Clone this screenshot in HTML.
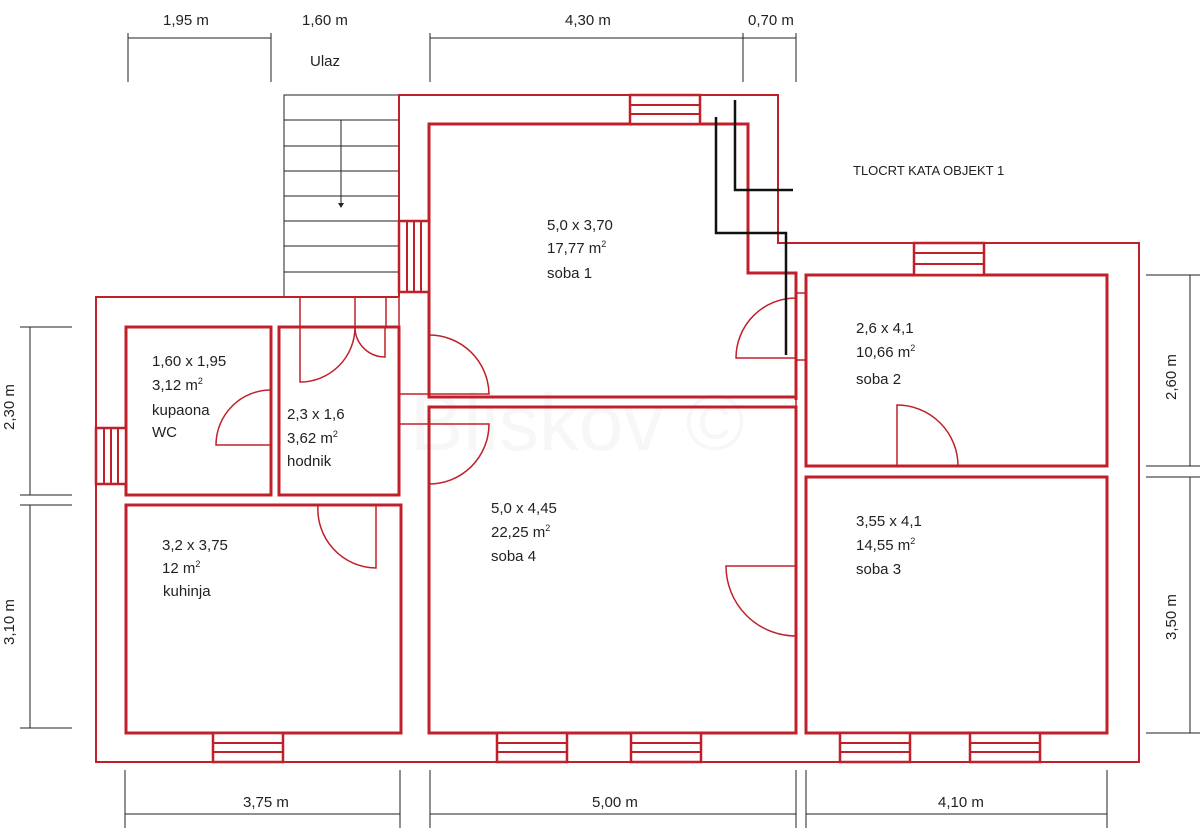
<!DOCTYPE html>
<html><head><meta charset="utf-8"><style>
html,body{margin:0;padding:0;background:#fff;width:1200px;height:833px;overflow:hidden}
svg{display:block}
text{font-family:"Liberation Sans",sans-serif;font-size:15px;fill:#222}
</style></head><body>
<svg width="1200" height="833" viewBox="0 0 1200 833" xmlns="http://www.w3.org/2000/svg">
<rect width="1200" height="833" fill="#fff"/>
<text x="410" y="450" style="font-size:80px;fill:#f7f7f7">Bliskov ©</text>

<g stroke="#222" stroke-width="1" fill="none">
<line x1="128" y1="33" x2="128" y2="82"/><line x1="271" y1="33" x2="271" y2="82"/><line x1="128" y1="38" x2="271" y2="38"/>
<line x1="430" y1="33" x2="430" y2="82"/><line x1="743" y1="33" x2="743" y2="82"/><line x1="796" y1="33" x2="796" y2="82"/><line x1="430" y1="38" x2="796" y2="38"/>
<line x1="125" y1="770" x2="125" y2="828"/><line x1="400" y1="770" x2="400" y2="828"/><line x1="125" y1="814" x2="400" y2="814"/>
<line x1="430" y1="770" x2="430" y2="828"/><line x1="796" y1="770" x2="796" y2="828"/><line x1="430" y1="814" x2="796" y2="814"/>
<line x1="806" y1="770" x2="806" y2="828"/><line x1="1107" y1="770" x2="1107" y2="828"/><line x1="806" y1="814" x2="1107" y2="814"/>
<line x1="20" y1="327" x2="72" y2="327"/><line x1="20" y1="495" x2="72" y2="495"/><line x1="30" y1="327" x2="30" y2="495"/>
<line x1="20" y1="505" x2="72" y2="505"/><line x1="20" y1="728" x2="72" y2="728"/><line x1="30" y1="505" x2="30" y2="728"/>
<line x1="1146" y1="275" x2="1200" y2="275"/><line x1="1146" y1="466" x2="1200" y2="466"/><line x1="1190" y1="275" x2="1190" y2="466"/>
<line x1="1146" y1="477" x2="1200" y2="477"/><line x1="1146" y1="733" x2="1200" y2="733"/><line x1="1190" y1="477" x2="1190" y2="733"/>
</g>
<g style="font-size:13px">
<text x="163" y="25">1,95 m</text><text x="302" y="25">1,60 m</text>
<text x="565" y="25">4,30 m</text><text x="748" y="25">0,70 m</text>
<text x="243" y="807">3,75 m</text><text x="592" y="807">5,00 m</text><text x="938" y="807">4,10 m</text>
<text transform="translate(14,430) rotate(-90)">2,30 m</text>
<text transform="translate(14,645) rotate(-90)">3,10 m</text>
<text transform="translate(1176,400) rotate(-90)">2,60 m</text>
<text transform="translate(1176,640) rotate(-90)">3,50 m</text>
</g>
<text x="310" y="66">Ulaz</text>
<text x="853" y="175" style="font-size:13px">TLOCRT KATA OBJEKT 1</text>

<g stroke="#222" stroke-width="1" fill="none">
<rect x="284" y="95" width="115" height="202"/>
<line x1="284" y1="120" x2="399" y2="120"/><line x1="284" y1="146" x2="399" y2="146"/>
<line x1="284" y1="171" x2="399" y2="171"/><line x1="284" y1="196" x2="399" y2="196"/>
<line x1="284" y1="221" x2="399" y2="221"/><line x1="284" y1="246" x2="399" y2="246"/>
<line x1="284" y1="272" x2="399" y2="272"/>
<line x1="341" y1="120" x2="341" y2="204"/>
</g>
<polygon points="338,203 344,203 341,208" fill="#222"/>

<polyline points="399,297 399,95 778,95 778,243 1139,243 1139,762 96,762 96,297 399,297" fill="none" stroke="#c0202a" stroke-width="2"/>

<g fill="none" stroke="#c0202a" stroke-width="3">
<polyline points="796,400 796,273 748,273 748,124 429,124 429,397 796,397"/>
<rect x="429" y="407" width="367" height="326"/>
<rect x="806" y="275" width="301" height="191"/>
<rect x="806" y="477" width="301" height="256"/>
<rect x="126" y="327" width="145" height="168"/>
<rect x="279" y="327" width="120" height="168"/>
<rect x="126" y="505" width="275" height="228"/>
</g>
<g fill="none" stroke="#c0202a" stroke-width="1.5">
<line x1="300" y1="297" x2="300" y2="327"/><line x1="355" y1="297" x2="355" y2="327"/><line x1="386" y1="297" x2="386" y2="327"/>
<line x1="399" y1="297" x2="399" y2="327"/>
<line x1="796" y1="400" x2="796" y2="733"/>
<line x1="399" y1="394" x2="429" y2="394"/><line x1="399" y1="424" x2="429" y2="424"/>
<line x1="796" y1="293" x2="806" y2="293"/><line x1="796" y1="360" x2="806" y2="360"/>
<path d="M300,327 L300,382 A55,55 0 0 0 355,327"/>
<path d="M355,327 A30,30 0 0 0 385,357 L385,327"/>
<path d="M429,335 A60,60 0 0 1 489,394 L429,394"/>
<path d="M429,424 L489,424 A60,60 0 0 1 429,484"/>
<path d="M271,390 A55,55 0 0 0 216,445 L271,445"/>
<path d="M796,298 A60,60 0 0 0 736,358 L796,358"/>
<path d="M897,466 L897,405 A61,61 0 0 1 958,466"/>
<path d="M318,505 A59,59 0 0 0 376,568 L376,505"/>
<path d="M796,566 L726,566 A70,70 0 0 0 796,636"/>
</g>

<g fill="#fff" stroke="#c0202a" stroke-width="2.5">
<rect x="630" y="95" width="70" height="29"/>
<rect x="914" y="243" width="70" height="32"/>
<rect x="213" y="733" width="70" height="29"/>
<rect x="497" y="733" width="70" height="29"/>
<rect x="631" y="733" width="70" height="29"/>
<rect x="840" y="733" width="70" height="29"/>
<rect x="970" y="733" width="70" height="29"/>
<rect x="399" y="221" width="30" height="71"/>
<rect x="96" y="428" width="30" height="56"/>
</g>
<g stroke="#c0202a" stroke-width="2">
<path d="M630,105H700M630,114H700 M914,253H984M914,264H984 M213,743H283M213,752H283 M497,743H567M497,752H567 M631,743H701M631,752H701 M840,743H910M840,752H910 M970,743H1040M970,752H1040"/>
<path d="M407,221V292M414,221V292M421,221V292 M104,428V484M111,428V484M118,428V484"/>
</g>

<g fill="none" stroke="#111" stroke-width="2.5">
<polyline points="716,117 716,233 786,233 786,355"/>
<polyline points="735,100 735,190 793,190"/>
</g>

<text x="547" y="230">5,0 x 3,70</text><text x="547" y="253">17,77 m<tspan dy="-6" style="font-size:9px">2</tspan></text><text x="547" y="278">soba 1</text>
<text x="856" y="333">2,6 x 4,1</text><text x="856" y="357">10,66 m<tspan dy="-6" style="font-size:9px">2</tspan></text><text x="856" y="384">soba 2</text>
<text x="856" y="526">3,55 x 4,1</text><text x="856" y="550">14,55 m<tspan dy="-6" style="font-size:9px">2</tspan></text><text x="856" y="574">soba 3</text>
<text x="491" y="513">5,0 x 4,45</text><text x="491" y="537">22,25 m<tspan dy="-6" style="font-size:9px">2</tspan></text><text x="491" y="561">soba 4</text>
<text x="152" y="366">1,60 x 1,95</text><text x="152" y="390">3,12 m<tspan dy="-6" style="font-size:9px">2</tspan></text><text x="152" y="415">kupaona</text><text x="152" y="437">WC</text>
<text x="287" y="419">2,3 x 1,6</text><text x="287" y="443">3,62 m<tspan dy="-6" style="font-size:9px">2</tspan></text><text x="287" y="466">hodnik</text>
<text x="162" y="550">3,2 x 3,75</text><text x="162" y="573">12 m<tspan dy="-6" style="font-size:9px">2</tspan></text><text x="163" y="596">kuhinja</text>
</svg>
</body></html>
